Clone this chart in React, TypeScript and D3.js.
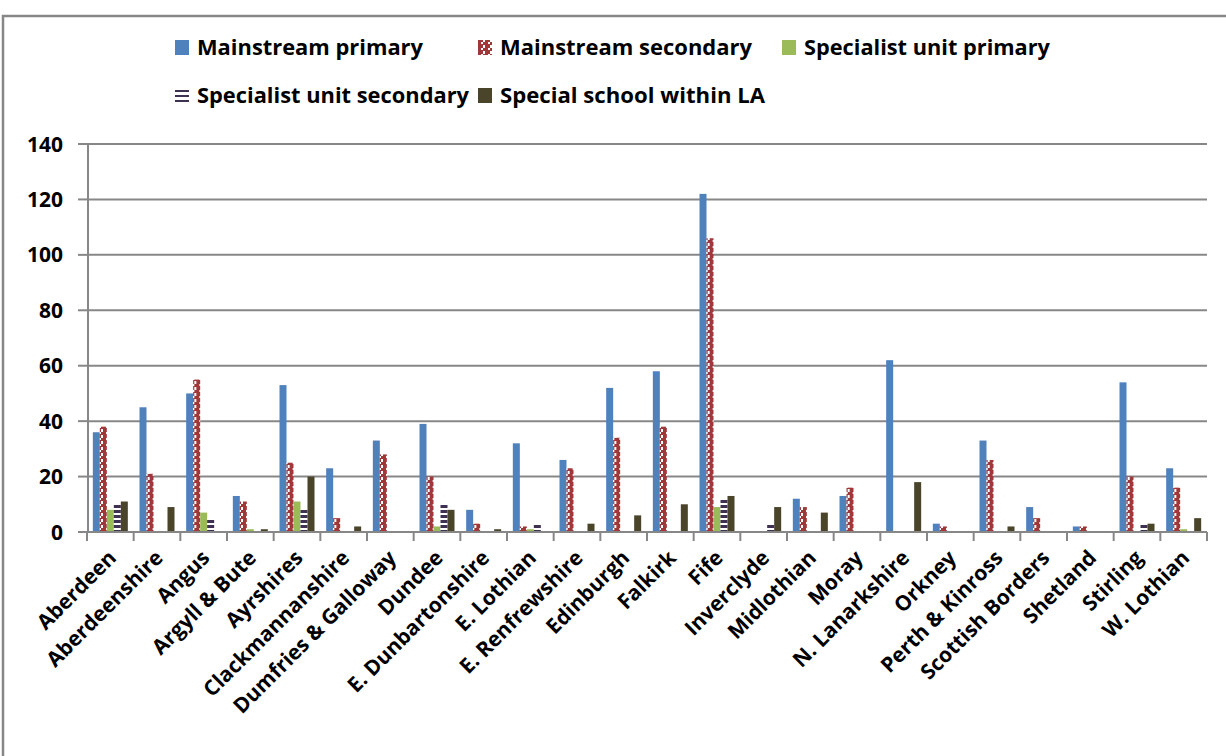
import React from "react";
import * as d3 from "d3";

const categories = [
  "Aberdeen", "Aberdeenshire", "Angus", "Argyll & Bute", "Ayrshires", "Clackmannanshire",
  "Dumfries & Galloway", "Dundee", "E. Dunbartonshire", "E. Lothian", "E. Renfrewshire",
  "Edinburgh", "Falkirk", "Fife", "Inverclyde", "Midlothian", "Moray", "N. Lanarkshire",
  "Orkney", "Perth & Kinross", "Scottish Borders", "Shetland", "Stirling", "W. Lothian",
];

const seriesNames = [
  "Mainstream primary",
  "Mainstream secondary",
  "Specialist unit primary",
  "Specialist unit secondary",
  "Special school within LA",
];

const mainstreamPrimary = [36, 45, 50, 13, 53, 23, 33, 39, 8, 32, 26, 52, 58, 122, 0, 12, 13, 62, 3, 33, 9, 2, 54, 23];
const mainstreamSecondary = [38, 21, 55, 11, 25, 5, 28, 20, 3, 2, 23, 34, 38, 106, 0, 9, 16, 0, 2, 26, 5, 2, 20, 16];
const specialistUnitPrimary = [8, 0, 7, 1, 11, 0, 0, 2, 0, 1, 0, 0, 0, 9, 0, 0, 0, 0, 0, 0, 0, 0, 0, 1];
const specialistUnitSecondary = [10, 0, 5, 0, 8, 0, 0, 10, 0, 3, 0, 0, 0, 12, 3, 0, 0, 0, 0, 0, 0, 0, 3, 0];
const specialSchool = [11, 9, 0, 1, 20, 2, 0, 8, 1, 0, 3, 6, 10, 13, 9, 7, 0, 18, 0, 2, 0, 0, 3, 5];

const seriesValues = [mainstreamPrimary, mainstreamSecondary, specialistUnitPrimary, specialistUnitSecondary, specialSchool];
const yTicks = [0, 20, 40, 60, 80, 100, 120, 140];

const fills = ["#4F81BD", "url(#redPat)", "#9BBB59", "url(#purpPat)", "#4A452A"];

const FONT = "'Open Sans', sans-serif";

export default function App() {
  const W = 1226, H = 756;
  const left = 88, right = 1207, top = 144, bottom = 532;
  const x0 = d3.scaleBand<string>().domain(categories).range([left - 1, right]).paddingInner(0).paddingOuter(0);
  const bw = x0.bandwidth();
  const x1 = d3.scaleBand<string>().domain(seriesNames).range([bw * 0.125, bw * 0.875]).padding(0);
  const y = d3.scaleLinear().domain([0, 140]).range([bottom, top]);
  const grid = "#878787";

  const legend = [
    { name: seriesNames[0], sx: 175, tx: 197, tw: 226, row: 0 },
    { name: seriesNames[1], sx: 478, tx: 500, tw: 252, row: 0 },
    { name: seriesNames[2], sx: 782, tx: 804, tw: 246, row: 0 },
    { name: seriesNames[3], sx: 175, tx: 197, tw: 272, row: 1 },
    { name: seriesNames[4], sx: 478, tx: 500, tw: 265, row: 1 },
  ];
  const rowBase = [55, 103];

  return (
    <svg width={W} height={H} style={{ position: "absolute", left: 0, top: 0, display: "block" }} fontFamily={FONT}>
      <defs>
        <pattern id="redPat" patternUnits="userSpaceOnUse" width="7" height="6">
          <rect width="7" height="6" fill="#ffffff" />
          <rect x="0" y="0" width="5" height="3" fill="#A0383A" />
          <rect x="2" y="3" width="5" height="3" fill="#A0383A" />
          <rect x="0" y="2" width="7" height="1" fill="#A0383A" />
        </pattern>
        <pattern id="purpPat" patternUnits="userSpaceOnUse" width="7" height="5">
          <rect width="7" height="5" fill="#ffffff" />
          <rect x="0" y="0" width="7" height="3" fill="#3F3152" />
        </pattern>
      </defs>
      <rect x={0} y={0} width={W} height={H} fill="#ffffff" />
      {/* frame */}
      <path d={`M3,${H} L3,16 L${W},16`} fill="none" stroke={grid} strokeWidth={2.5} />

      {/* legend */}
      {legend.map((l, i) => (
        <g key={i}>
          {i === 3 ? (
            <g>
              {[0, 1, 2].map((k) => (
                <rect key={k} x={l.sx} y={rowBase[l.row] - 15 + 2 + k * 5} width={14} height={2} fill="#3F3152" />
              ))}
            </g>
          ) : (
            <rect x={l.sx} y={rowBase[l.row] - 15} width={14} height={15} fill={fills[i]} />
          )}
          <text x={l.tx} y={rowBase[l.row]} fontSize={21} fontWeight={700} fill="#000" textLength={l.tw} lengthAdjust="spacingAndGlyphs">
            {l.name}
          </text>
        </g>
      ))}

      {/* gridlines */}
      {yTicks.map((t) => (
        <g key={t}>
          {t > 0 && <line x1={left} x2={right} y1={y(t)} y2={y(t)} stroke={grid} strokeWidth={2} />}
          <line x1={left - 10} x2={left} y1={y(t)} y2={y(t)} stroke={grid} strokeWidth={2} />
          <text x={63} y={y(t)} dy="0.36em" textAnchor="end" fontSize={21} fontWeight={700} fill="#000">
            {t}
          </text>
        </g>
      ))}

      {/* bars */}
      {categories.map((c, ci) => (
        <g key={c} transform={`translate(${x0(c)},0)`}>
          {seriesNames.map((s, si) => {
            const v = seriesValues[si][ci];
            if (!v) return null;
            return (
              <rect key={s} x={x1(s)} y={y(v)} width={x1.bandwidth()} height={y(0) - y(v)} fill={fills[si]} />
            );
          })}
        </g>
      ))}

      {/* axes */}
      <line x1={left} x2={left} y1={top} y2={bottom} stroke={grid} strokeWidth={2} />
      <line x1={left - 10} x2={right} y1={bottom} y2={bottom} stroke={grid} strokeWidth={2} />
      {[...categories.map((c) => x0(c) as number), right].map((xv, i) => (
        <line key={i} x1={xv} x2={xv} y1={bottom} y2={bottom + 9} stroke={grid} strokeWidth={2} />
      ))}

      {/* category labels */}
      {categories.map((c) => {
        const cx = (x0(c) as number) + bw / 2 + 2;
        const cy = bottom + 22;
        return (
          <text key={c} transform={`translate(${cx},${cy}) rotate(-45)`} textAnchor="end" dy="0.35em" fontSize={21} fontWeight={700} fill="#000">
            {c}
          </text>
        );
      })}
    </svg>
  );
}
